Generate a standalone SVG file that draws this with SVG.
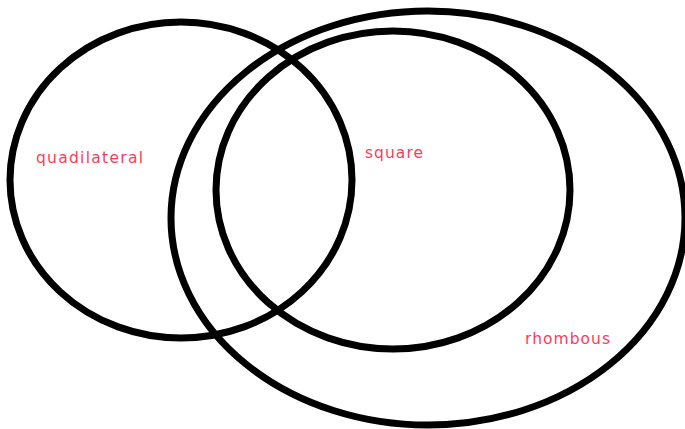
<svg xmlns="http://www.w3.org/2000/svg" width="685" height="429" viewBox="0 0 685 429">
<style>
.set{fill:none;stroke:#000;stroke-width:7}
.lbl{font-family:"DejaVu Sans",sans-serif;font-size:15.5px;fill:#fa3c5c}
</style>
<rect width="685" height="429" fill="#fff"/>
<g id="quadrilateral">
<ellipse class="set" cx="181" cy="180" rx="171" ry="158"/>
<text class="lbl" x="36" y="163" textLength="107" lengthAdjust="spacing">quadilateral</text>
</g>
<g id="rhombus">
<ellipse class="set" cx="428" cy="218" rx="257" ry="207"/>
<text class="lbl" x="525" y="344" textLength="85" lengthAdjust="spacing">rhombous</text>
</g>
<g id="square">
<ellipse class="set" cx="393" cy="190" rx="177" ry="159"/>
<text class="lbl" x="365" y="158" textLength="58" lengthAdjust="spacing">square</text>
</g>
<g id="connectors"></g>
</svg>
